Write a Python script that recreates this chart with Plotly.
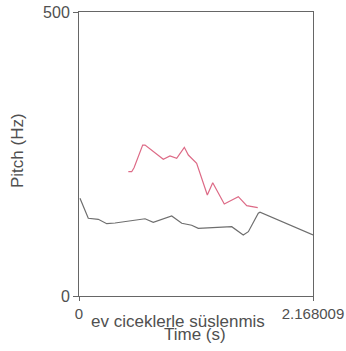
import plotly.graph_objects as go

# Gray pitch contour
gray_t = [0.009, 0.086, 0.179, 0.257, 0.334, 0.612, 0.688, 0.859, 0.952, 1.044, 1.105,
          1.415, 1.522, 1.569, 1.661, 1.677, 2.168]
gray_hz = [172, 136.8, 135, 127.3, 128.5, 136, 129.8, 140.8, 128, 124.5, 119,
           122, 107.4, 113.2, 145.6, 147.4, 107.4]

# Red pitch contour
red_t = [0.457, 0.488, 0.51, 0.59, 0.612, 0.781, 0.843, 0.905, 0.976, 1.013, 1.09,
         1.189, 1.239, 1.346, 1.476, 1.554, 1.656]
red_hz = [218.8, 218.8, 225.9, 265.8, 265.8, 240.7, 246.5, 242.4, 261.8, 248.2, 233.6,
          177.8, 199.5, 162, 174.8, 159, 155.5]

x_tickvals = [0, 2.168]
x_ticktext = ["0", "2.168009"]
y_tickvals = [0, 500]
y_ticktext = ["0", "500"]
sentence = "ev ciceklerle süslenmis"
x_title = "Time (s)"
y_title = "Pitch (Hz)"

txt = "#505050"
fig = go.Figure()
fig.add_trace(go.Scatter(x=gray_t, y=gray_hz, mode="lines",
                         line=dict(color="#6e6e6e", width=1.2), showlegend=False))
fig.add_trace(go.Scatter(x=red_t, y=red_hz, mode="lines",
                         line=dict(color="#dd6a86", width=1.2), showlegend=False))

fig.update_layout(
    width=346, height=351,
    margin=dict(l=79, r=33, t=12, b=55),
    paper_bgcolor="white", plot_bgcolor="white",
    font=dict(family="Liberation Sans, Arial", size=14, color=txt),
    xaxis=dict(range=[0, 2.168], showgrid=False, zeroline=False, automargin=False,
               showline=True, linecolor="#666666", linewidth=1, mirror=True,
               ticks="outside", ticklen=4, tickcolor="#666666",
               tickvals=x_tickvals, ticktext=x_ticktext, ticklabeloverflow="allow",
               tickfont=dict(size=15, color=txt)),
    yaxis=dict(range=[0, 500], showgrid=False, zeroline=False, automargin=False,
               showline=True, linecolor="#666666", linewidth=1, mirror=True,
               ticks="outside", ticklen=5, tickcolor="#666666",
               tickvals=y_tickvals, ticktext=y_ticktext,
               tickfont=dict(size=16, color=txt)),
)
fig.add_annotation(text=sentence, xref="paper", yref="paper", x=0.423, y=0,
                   yshift=-25, showarrow=False, xanchor="center", yanchor="middle",
                   font=dict(size=17, color=txt))
fig.add_annotation(text=x_title, xref="paper", yref="paper", x=0.494, y=0,
                   yshift=-38, showarrow=False, xanchor="center", yanchor="middle",
                   font=dict(size=17, color=txt))
fig.add_annotation(text=y_title, xref="paper", yref="paper", x=-0.265, y=0.514,
                   textangle=-90, showarrow=False, xanchor="center", yanchor="middle",
                   font=dict(size=17, color=txt))
fig.write_html("out.html", post_script="document.body.style.margin='0';",
               config={"displayModeBar": False})
